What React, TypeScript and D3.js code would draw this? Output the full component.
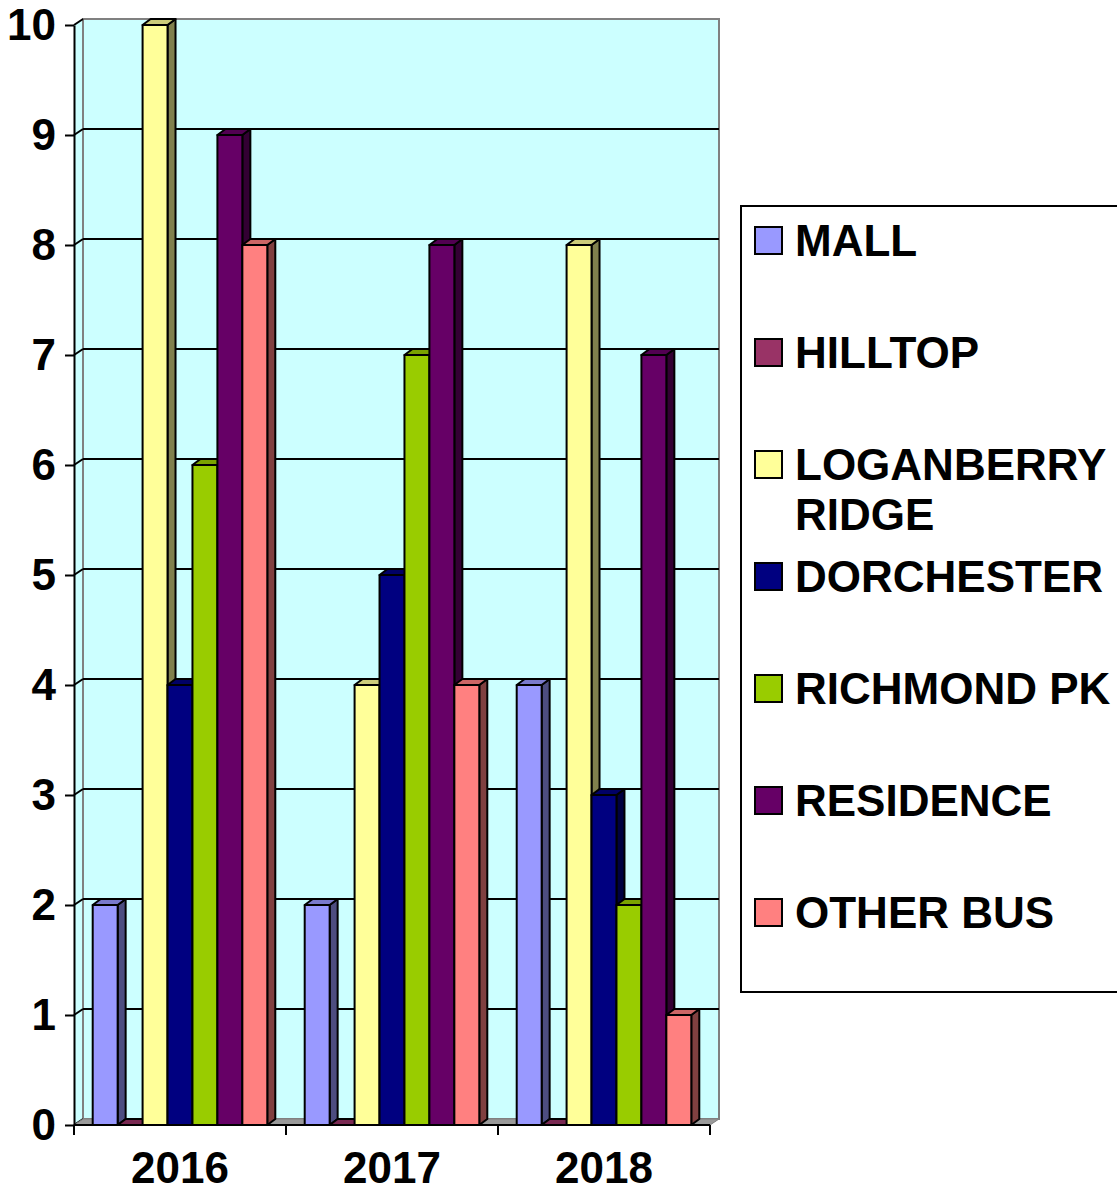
import React, { useEffect, useRef } from 'react';
import * as d3 from 'd3';

const years = ['2016', '2017', '2018'];
const seriesNames = ['MALL', 'HILLTOP', 'LOGANBERRY RIDGE', 'DORCHESTER', 'RICHMOND PK', 'RESIDENCE', 'OTHER BUS'];
const legendLines = [['MALL'], ['HILLTOP'], ['LOGANBERRY', 'RIDGE'], ['DORCHESTER'], ['RICHMOND PK'], ['RESIDENCE'], ['OTHER BUS']];
const seriesColors = ['#9999FF', '#993366', '#FFFF99', '#000080', '#99CC00', '#660066', '#FF8080'];

// values per series, in year order
const mall = [2, 2, 4];
const hilltop = [0, 0, 0];
const loganberry = [10, 4, 8];
const dorchester = [4, 5, 3];
const richmond = [6, 7, 2];
const residence = [9, 8, 7];
const otherBus = [8, 4, 1];
const seriesValues = [mall, hilltop, loganberry, dorchester, richmond, residence, otherBus];

const yTicks = [0, 1, 2, 3, 4, 5, 6, 7, 8, 9, 10];

const FONT = '"Liberation Sans", Arial, sans-serif';

export default function App() {
  const ref = useRef<SVGSVGElement>(null);

  useEffect(() => {
    if (!ref.current) return;
    const svg = d3.select(ref.current);
    svg.selectAll('*').remove();

    const left = 74, right = 710, bottom = 1125, top = 25;
    const DX = 9, DY = -6;   // wall depth
    const BDX = 8, BDY = -6; // bar depth

    const y = d3.scaleLinear().domain([0, 10]).range([bottom, top]);
    const x0 = d3.scaleBand<string>().domain(years).range([left, right]).padding(0);
    const x1 = d3.scaleBand<string>().domain(seriesNames).range([0, x0.bandwidth()])
      .paddingInner(0).paddingOuter(0.75);

    // side wall
    svg.append('polygon')
      .attr('points', [[left, top], [left + DX, top + DY], [left + DX, bottom + DY], [left, bottom]].join(' '))
      .attr('fill', '#CCFFFF');

    // back wall
    svg.append('rect')
      .attr('x', left + DX).attr('y', top + DY)
      .attr('width', right - left).attr('height', bottom - top)
      .attr('fill', '#CCFFFF').attr('stroke', '#808080').attr('stroke-width', 2);

    // gridlines on back wall
    svg.append('g').selectAll('line')
      .data(yTicks.filter(v => v > 0 && v < 10))
      .enter().append('line')
      .attr('x1', left + DX).attr('x2', right + DX)
      .attr('y1', d => y(d) + DY).attr('y2', d => y(d) + DY)
      .attr('stroke', '#000').attr('stroke-width', 2);

    // diagonal tick extensions on side wall
    svg.append('g').selectAll('line')
      .data(yTicks)
      .enter().append('line')
      .attr('x1', left).attr('x2', left + DX)
      .attr('y1', d => y(d)).attr('y2', d => y(d) + DY)
      .attr('stroke', '#000').attr('stroke-width', 2);

    // floor
    svg.append('polygon')
      .attr('points', [[left, bottom], [right, bottom], [right + DX, bottom + DY], [left + DX, bottom + DY]].join(' '))
      .attr('fill', '#9A9A9A').attr('stroke', '#808080').attr('stroke-width', 1);

    // bars
    const shade = (c: string, k: number) => {
      const col = d3.rgb(c);
      return d3.rgb(col.r * k, col.g * k, col.b * k).formatHex();
    };
    const bw = x1.bandwidth();
    const barG = svg.append('g');
    years.forEach((yr, yi) => {
      seriesNames.forEach((s, si) => {
        const v = seriesValues[si][yi];
        const bx = (x0(yr) as number) + (x1(s) as number);
        const by = y(v);
        const c = seriesColors[si];
        const g = barG.append('g')
          .attr('stroke', '#000').attr('stroke-width', 2).attr('stroke-linejoin', 'round');
        // side
        g.append('polygon')
          .attr('points', [[bx + bw, by], [bx + bw + BDX, by + BDY], [bx + bw + BDX, bottom + BDY], [bx + bw, bottom]].join(' '))
          .attr('fill', shade(c, 0.5));
        // top
        g.append('polygon')
          .attr('points', [[bx, by], [bx + BDX, by + BDY], [bx + bw + BDX, by + BDY], [bx + bw, by]].join(' '))
          .attr('fill', shade(c, 0.8));
        // front
        if (v > 0) {
          g.append('rect')
            .attr('x', bx).attr('y', by).attr('width', bw).attr('height', bottom - by)
            .attr('fill', c);
        }
      });
    });

    // y axis
    const yAxis = svg.append('g')
      .attr('transform', `translate(${left},0)`)
      .call(d3.axisLeft(y).tickValues(yTicks).tickSize(9).tickSizeOuter(0).tickPadding(9).tickFormat(d3.format('d')));
    yAxis.select('.domain').attr('stroke', '#000').attr('stroke-width', 2);
    yAxis.selectAll('.tick line').attr('stroke', '#000').attr('stroke-width', 2);
    yAxis.selectAll('.tick text')
      .attr('font-family', FONT).attr('font-size', 44).attr('font-weight', 'bold').attr('fill', '#000');

    // x axis
    const xg = svg.append('g');
    xg.append('line')
      .attr('x1', left).attr('x2', right).attr('y1', bottom).attr('y2', bottom)
      .attr('stroke', '#000').attr('stroke-width', 2);
    const bounds = years.map(yr => x0(yr) as number).concat([right]);
    xg.selectAll('line.tk').data(bounds).enter().append('line')
      .attr('class', 'tk')
      .attr('x1', d => d).attr('x2', d => d).attr('y1', bottom).attr('y2', bottom + 10)
      .attr('stroke', '#000').attr('stroke-width', 2);
    xg.selectAll('text').data(years).enter().append('text')
      .attr('x', d => (x0(d) as number) + x0.bandwidth() / 2)
      .attr('y', 1183)
      .attr('text-anchor', 'middle')
      .attr('font-family', FONT).attr('font-size', 44).attr('font-weight', 'bold')
      .text(d => d);

    // legend
    const lg = svg.append('g');
    lg.append('rect')
      .attr('x', 741).attr('y', 206).attr('width', 420).attr('height', 786)
      .attr('fill', '#fff').attr('stroke', '#000').attr('stroke-width', 2);
    const items = lg.selectAll('g.item').data(seriesNames).enter().append('g')
      .attr('class', 'item')
      .attr('transform', (_d, i) => `translate(0,${240 + i * 112})`);
    items.append('rect')
      .attr('x', 755).attr('y', -13).attr('width', 27).attr('height', 27)
      .attr('fill', (_d, i) => seriesColors[i]).attr('stroke', '#000').attr('stroke-width', 2);
    items.each(function (_d, i) {
      const t = d3.select(this).append('text')
        .attr('font-family', FONT).attr('font-size', 44).attr('font-weight', 'bold');
      legendLines[i].forEach((line, li) => {
        t.append('tspan').attr('x', 795).attr('y', 16 + li * 50).text(line);
      });
    });
  }, []);

  return (
    <svg ref={ref} width={1117} height={1194}
      style={{ position: 'absolute', left: 0, top: 0, background: '#fff' }} />
  );
}
